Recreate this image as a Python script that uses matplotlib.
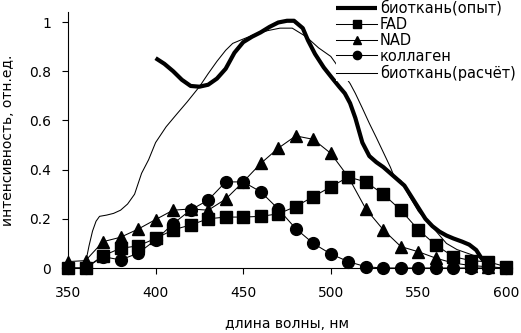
import matplotlib
matplotlib.use("Agg")
import matplotlib.pyplot as plt

plt.rcParams['font.family'] = ['DejaVu Sans']

# Wavelengths for marker series
wl = [350, 360, 370, 380, 390, 400, 410, 420, 430, 440, 450, 460, 470,
      480, 490, 500, 510, 520, 530, 540, 550, 560, 570, 580, 590, 600]
fad = [0, 0, 0.05, 0.08, 0.09, 0.12, 0.155, 0.175, 0.20, 0.207, 0.207, 0.21, 0.22,
       0.25, 0.29, 0.33, 0.37, 0.35, 0.30, 0.235, 0.155, 0.093, 0.046, 0.03, 0.025, 0.005]
nad = [0.026, 0.03, 0.107, 0.125, 0.158, 0.197, 0.235, 0.24, 0.235, 0.28, 0.35, 0.425, 0.487,
       0.537, 0.523, 0.466, 0.37, 0.24, 0.155, 0.087, 0.066, 0.04, 0.02, 0.01, 0.005, 0]
collagen = [0, 0, 0.046, 0.033, 0.06, 0.114, 0.18, 0.236, 0.276, 0.35, 0.35, 0.31, 0.24,
            0.16, 0.10, 0.057, 0.026, 0.005, 0, 0, 0, 0, 0, 0, 0, 0]

# Experimental tissue spectrum
exp_wl = [400, 405, 410, 415, 420, 425, 430, 435, 440, 445, 450, 455, 460, 465, 470,
          475, 479, 484, 487, 491, 496, 501, 505, 508, 511, 514, 518, 522, 526, 530,
          534, 538, 542, 546, 550, 554, 558, 562, 566, 570, 575, 579, 583, 586, 589]
exp_val = [0.853, 0.83, 0.80, 0.765, 0.74, 0.737, 0.745, 0.77, 0.81, 0.875, 0.918, 0.94,
           0.958, 0.98, 0.998, 1.005, 1.005, 0.975, 0.925, 0.87, 0.815, 0.77, 0.735, 0.71,
           0.67, 0.61, 0.51, 0.455, 0.43, 0.41, 0.385, 0.36, 0.335, 0.29, 0.245, 0.2,
           0.17, 0.148, 0.132, 0.12, 0.107, 0.095, 0.073, 0.04, 0.015]

# Calculated tissue spectrum
calc_wl = [360, 362, 364, 366, 368, 372, 376, 380, 384, 388, 392, 396, 400, 406, 412,
           418, 425, 430, 435, 440, 444, 448, 456, 464, 471, 478, 486, 493, 500, 506,
           511, 514, 518, 522, 526, 530, 534, 536, 540, 545, 550, 555, 560, 566, 572,
           578, 584, 588, 591]
calc_val = [0.02, 0.09, 0.15, 0.19, 0.21, 0.215, 0.222, 0.235, 0.26, 0.3, 0.385, 0.44,
            0.51, 0.574, 0.625, 0.675, 0.737, 0.79, 0.84, 0.885, 0.913, 0.925, 0.948,
            0.965, 0.975, 0.975, 0.94, 0.895, 0.86, 0.8, 0.75, 0.71, 0.65, 0.588, 0.53,
            0.47, 0.41, 0.375, 0.355, 0.29, 0.23, 0.19, 0.15, 0.1, 0.075, 0.06, 0.045,
            0.025, 0.0]

xticks = [350, 400, 450, 500, 550, 600]
yticks = [0, 0.2, 0.4, 0.6, 0.8, 1.0]
ytick_labels = ["0", "0.2", "0.4", "0.6", "0.8", "1"]

fig = plt.figure(figsize=(5.21, 3.33), dpi=100)
ax = fig.add_axes([68/521, 65/333, 438/521, 256/333])

lw_thin = 0.75
ms = 8.5
l_exp, = ax.plot(exp_wl, exp_val, color='black', lw=3.0, solid_capstyle='butt',
                 label='биоткань(опыт)', zorder=2)
l_fad, = ax.plot(wl, fad, color='black', lw=lw_thin, marker='s', ms=ms,
                 label='FAD', clip_on=False, zorder=4)
l_nad, = ax.plot(wl, nad, color='black', lw=lw_thin, marker='^', ms=ms,
                 label='NAD', clip_on=False, zorder=4)
l_col, = ax.plot(wl, collagen, color='black', lw=lw_thin, marker='o', ms=ms,
                 label='коллаген', clip_on=False, zorder=4)
l_calc, = ax.plot(calc_wl, calc_val, color='black', lw=lw_thin,
                  label='биоткань(расчёт)', zorder=3)

ax.set_xlim(350, 600)
ax.set_ylim(0, 256/246)
ax.set_xticks(xticks)
ax.set_yticks(yticks)
ax.set_yticklabels(ytick_labels)
for s in ['top', 'right']:
    ax.spines[s].set_visible(False)
for s in ['left', 'bottom']:
    ax.spines[s].set_linewidth(0.8)
ax.tick_params(axis='both', direction='out', length=4, width=0.8,
               labelsize=10, colors='black')
ax.tick_params(axis='x', pad=9)
ax.tick_params(axis='y', pad=8)

ax.set_xlabel('длина волны, нм', fontsize=10)
ax.set_ylabel('интенсивность, отн.ед.', fontsize=10)
ax.xaxis.set_label_coords(0.5, -0.193)
ax.yaxis.set_label_coords(-0.122, 0.5)

leg = fig.legend(handles=[l_exp, l_fad, l_nad, l_col, l_calc],
                 loc='upper left', bbox_to_anchor=(336/521, 1.0),
                 frameon=True, fancybox=False, edgecolor='none', facecolor='white',
                 framealpha=1, fontsize=10.5, handlelength=2.8, handletextpad=0.2,
                 labelspacing=0.06, borderpad=0.02, borderaxespad=0,
                 markerscale=0.7)
leg.set_zorder(10)

fig.savefig('out.png', dpi=100)
